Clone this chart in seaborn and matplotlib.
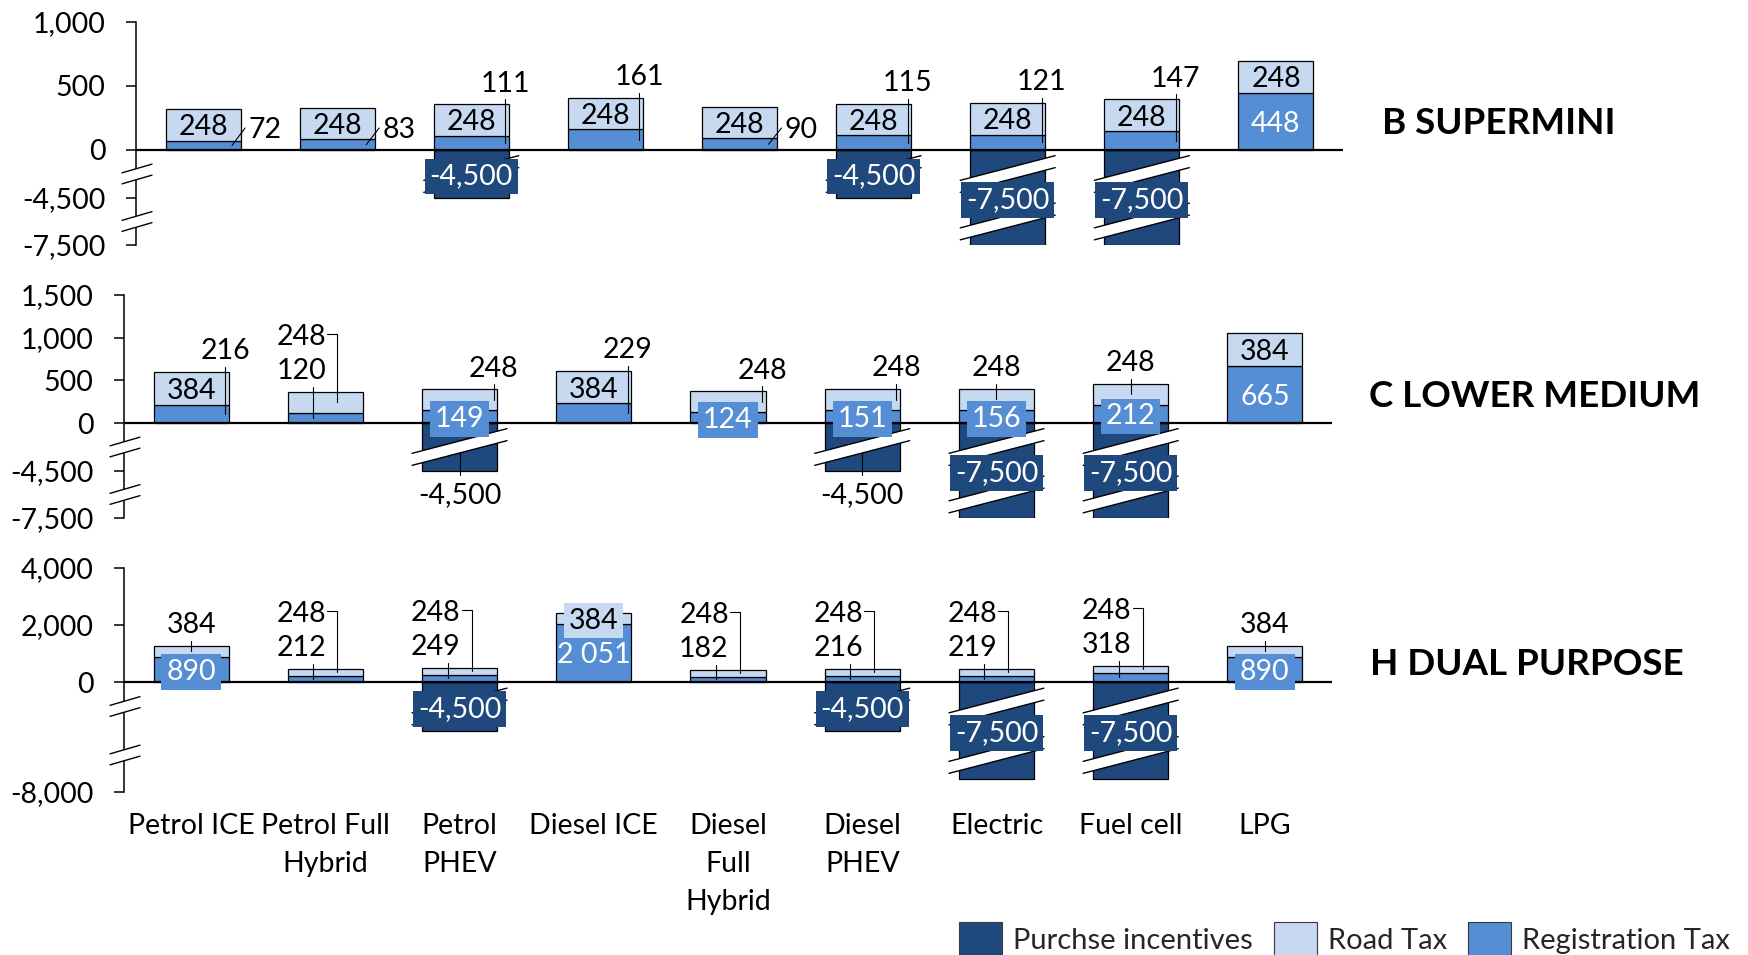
import numpy as np
import pandas as pd
import matplotlib
matplotlib.use("Agg")
import matplotlib.pyplot as plt
import seaborn as sns
from matplotlib.lines import Line2D
from matplotlib.patches import Polygon, Patch
from matplotlib.transforms import IdentityTransform
from matplotlib.ticker import NullLocator

# ---------------- data ----------------
categories = ["Petrol ICE", "Petrol Full Hybrid", "Petrol PHEV", "Diesel ICE",
              "Diesel Full Hybrid", "Diesel PHEV", "Electric", "Fuel cell", "LPG"]
tick_labels = ["Petrol ICE", "Petrol Full\nHybrid", "Petrol\nPHEV", "Diesel ICE",
               "Diesel\nFull\nHybrid", "Diesel\nPHEV", "Electric", "Fuel cell", "LPG"]
series_names = ["Purchse incentives", "Road Tax", "Registration Tax"]
segment_titles = ["B SUPERMINI", "C LOWER MEDIUM", "H DUAL PURPOSE"]

b_registration = [72, 83, 111, 161, 90, 115, 121, 147, 448]
b_road = [248, 248, 248, 248, 248, 248, 248, 248, 248]
b_purchase = [0, 0, -4500, 0, 0, -4500, -7500, -7500, 0]

c_registration = [216, 120, 149, 229, 124, 151, 156, 212, 665]
c_road = [384, 248, 248, 384, 248, 248, 248, 248, 384]
c_purchase = [0, 0, -4500, 0, 0, -4500, -7500, -7500, 0]

h_registration = [890, 212, 249, 2051, 182, 216, 219, 318, 890]
h_road = [384, 248, 248, 384, 248, 248, 248, 248, 384]
h_purchase = [0, 0, -4500, 0, 0, -4500, -7500, -7500, 0]

b_yticks = [-7500, -4500, 0, 500, 1000]
c_yticks = [-7500, -4500, 0, 500, 1000, 1500]
h_yticks = [-8000, 0, 2000, 4000]

# ---------------- style ----------------
NAVY, ROAD, REG = "#1F497D", "#C6D9F1", "#558ED5"
FIG_W, FIG_H = 1748, 955
FS = 20.5

sns.set_theme(style="white")
plt.rcParams["font.family"] = ["Lato", "DejaVu Sans"]

# panel geometry (pixel box: left, top, right, bottom) and broken-axis knots
panels = [
    dict(title=segment_titles[0], reg=b_registration, road=b_road, purchase=b_purchase,
         yticks=b_yticks, box=(136, 22, 1343, 245),
         knots=([-7500, -4500, 0, 1000], [-95, -48, 0, 128]), title_pos=(1382, 120),
         reg_style=["side", "side", "above", "above", "side", "above", "above", "above", "in"],
         road_style=["in"] * 9,
         pur_style=["", "", "box", "", "", "box", "box", "box", ""]),
    dict(title=segment_titles[1], reg=c_registration, road=c_road, purchase=c_purchase,
         yticks=c_yticks, box=(124, 295, 1332, 518),
         knots=([-7500, -4500, 0, 1500], [-95, -48, 0, 128]), title_pos=(1369, 393),
         reg_style=["above", "pair_low", "box", "above", "box", "box", "box", "box", "in"],
         road_style=["in", "pair_high", "above", "in", "above", "above", "above_c", "above_c", "in"],
         pur_style=["", "", "below", "", "", "below", "box", "box", ""]),
    dict(title=segment_titles[2], reg=h_registration, road=h_road, purchase=h_purchase,
         yticks=h_yticks, box=(124, 568, 1332, 792),
         knots=([-8000, -7500, -4500, 0, 4000], [-110, -97, -49, 0, 114]), title_pos=(1370, 661),
         reg_style=["box", "pair_low", "pair_low", "in", "pair_low", "pair_low", "pair_low", "pair_low", "box"],
         road_style=["above_c", "pair_high", "pair_high", "box", "pair_high", "pair_high", "pair_high", "pair_high", "above_c"],
         pur_style=["", "", "box", "", "", "box", "box", "box", ""]),
]
BREAKS = [-2250, -6000]


def piecewise(vals, pxs):
    vals = np.asarray(vals, float)
    pxs = np.asarray(pxs, float)

    def lin(v, a, b):
        v = np.asarray(v, dtype=float)
        out = np.interp(v, a, b)
        lo_s = (b[1] - b[0]) / (a[1] - a[0])
        hi_s = (b[-1] - b[-2]) / (a[-1] - a[-2])
        out = np.where(v < a[0], b[0] + (v - a[0]) * lo_s, out)
        out = np.where(v > a[-1], b[-1] + (v - a[-1]) * hi_s, out)
        return out

    return (lambda v: lin(v, vals, pxs)), (lambda p: lin(p, pxs, vals))


fig = plt.figure(figsize=(FIG_W / 100, FIG_H / 100), dpi=100)
IDT = IdentityTransform()


def label(x, y, s, color="black", box=None, ha="center"):
    kw = {}
    if box is not None:
        kw["bbox"] = dict(boxstyle="square,pad=0.17", fc=box, ec="none")
    fig.text(x, y, s, transform=IDT, ha=ha, va="center_baseline", fontsize=FS,
             color=color, zorder=6 if box else 5, **kw)


def leader(xs, ys):
    fig.add_artist(Line2D(xs, ys, transform=IDT, color="black", lw=0.8, zorder=3.5))


def stripe(xc, yc, half, slope, gap):
    xs = np.array([xc - half, xc + half])
    up = yc + gap / 2 + slope * (xs - xc)
    lo = yc - gap / 2 + slope * (xs - xc)
    fig.add_artist(Polygon([[xs[0], lo[0]], [xs[1], lo[1]], [xs[1], up[1]], [xs[0], up[0]]],
                           closed=True, fc="white", ec="none", transform=IDT, zorder=4))
    for ys in (up, lo):
        fig.add_artist(Line2D(xs, ys, transform=IDT, color="black", lw=1.0, zorder=4.1))


def fmt_tax(v):
    return f"{v:,}".replace(",", " ")


for k, p in enumerate(panels):
    l, t, r, b = p["box"]
    ax = fig.add_axes([l / FIG_W, 1 - b / FIG_H, (r - l) / FIG_W, (b - t) / FIG_H])
    df = pd.DataFrame({"category": categories, "registration": p["reg"],
                       "road": p["road"], "purchase": p["purchase"]})
    neg = df[df["purchase"] != 0]
    common = dict(x="category", order=categories, width=0.56, saturation=1,
                  errorbar=None, edgecolor="black", linewidth=0.9, ax=ax)
    sns.barplot(data=neg, y="purchase", color=NAVY, **common)
    sns.barplot(data=df, y="registration", color=REG, **common)
    sns.barplot(data=df, y="road", bottom=df["registration"].to_numpy(), color=ROAD, **common)

    fwd, inv = piecewise(*p["knots"])
    ax.set_yscale("function", functions=(fwd, inv))
    ax.set_ylim(p["knots"][0][0], p["knots"][0][-1])
    ax.set_xlim(-0.5, len(categories) - 0.5)
    ax.set_yticks(p["yticks"])
    ax.set_yticklabels([f"{v:,}" for v in p["yticks"]])
    ax.yaxis.set_minor_locator(NullLocator())
    ax.set_xlabel("")
    ax.set_ylabel("")
    for s in ["top", "right", "bottom"]:
        ax.spines[s].set_visible(False)
    ax.spines["left"].set_color("black")
    ax.spines["left"].set_linewidth(1.1)
    ax.tick_params(axis="y", direction="out", left=True, length=7, width=1.1, pad=15,
                   labelsize=FS, colors="black")
    ax.axhline(0, color="black", lw=1.6, zorder=3)
    if k == len(panels) - 1:
        ax.set_xticks(range(len(categories)))
        ax.set_xticklabels(tick_labels, fontsize=FS, linespacing=1.58)
        ax.tick_params(axis="x", length=0, pad=15, colors="black")
    else:
        ax.tick_params(axis="x", length=0, labelbottom=False)

    # axis break marks
    ax_x = ax.transData.transform((-0.5, 0))[0]
    for lev in BREAKS:
        stripe(ax_x + 1, ax.transData.transform((0, lev))[1], 15, 0.29, 11)

    # segment title
    fig.text(p["title_pos"][0], FIG_H - p["title_pos"][1], p["title"], transform=IDT,
             ha="left", va="center_baseline", fontsize=26.5, fontweight="bold", color="black")

    for i in range(len(categories)):
        reg, road, pur = p["reg"][i], p["road"][i], p["purchase"][i]
        x0, yz = ax.transData.transform((i, 0))
        yreg = ax.transData.transform((i, reg))[1]
        ytop = ax.transData.transform((i, reg + road))[1]
        reg_mid = (yz + yreg) / 2
        road_mid = (yreg + ytop) / 2

        # purchase incentive bar: breaks and label
        if pur != 0:
            ybot = ax.transData.transform((i, pur))[1]
            pur_mid = (yz + ybot) / 2
            for lev in BREAKS:
                if pur < lev:
                    stripe(x0, ax.transData.transform((i, lev))[1], 47.5, 0.26, 12)
            if p["pur_style"][i] == "box":
                label(x0, pur_mid, f"{pur:,}", color="white", box=NAVY)
            elif p["pur_style"][i] == "below":
                label(x0, ybot - 22, f"{pur:,}")
                leader([x0, x0], [pur_mid, ybot - 4])

        for which, val, mid, col, txtcol in (("reg", reg, reg_mid, REG, "white"),
                                             ("road", road, road_mid, ROAD, "black")):
            st = p[f"{which}_style"][i]
            s = fmt_tax(val)
            if st == "in":
                label(x0, mid, s, color=txtcol)
            elif st == "box":
                label(x0, mid, s, color=txtcol, box=col)
            elif st in ("above", "above_c"):
                dx = 34 if st == "above" else 0
                label(x0 + dx, ytop + 23, s)
                leader([x0 + dx, x0 + dx], [ytop + 5, mid])
            elif st == "pair_high":
                ty = ytop + 57
                label(x0 - 24, ty, s)
                leader([x0 + 2, x0 + 12, x0 + 12], [ty + 1, ty + 1, mid])
            elif st == "pair_low":
                label(x0 - 24, ytop + 23, s)
                leader([x0 - 12, x0 - 12], [ytop + 5, mid])
            elif st == "side":
                label(x0 + 62, yz + 23, s)
                leader([x0 + 29, x0 + 42], [mid, yz + 22])

handles = [Patch(fc=NAVY, ec="#3a3a3a", lw=0.8),
           Patch(fc=ROAD, ec="#3a3a3a", lw=0.8),
           Patch(fc=REG, ec="#3a3a3a", lw=0.8)]
fig.legend(handles, series_names, loc="center left",
           bbox_to_anchor=(959 / FIG_W, 1 - 939 / FIG_H), ncol=3, frameon=False,
           fontsize=21, handlelength=1.48, handleheight=1.43, handletextpad=0.37,
           columnspacing=0.72, borderpad=0, borderaxespad=0)

fig.savefig("out.png", dpi=100)
